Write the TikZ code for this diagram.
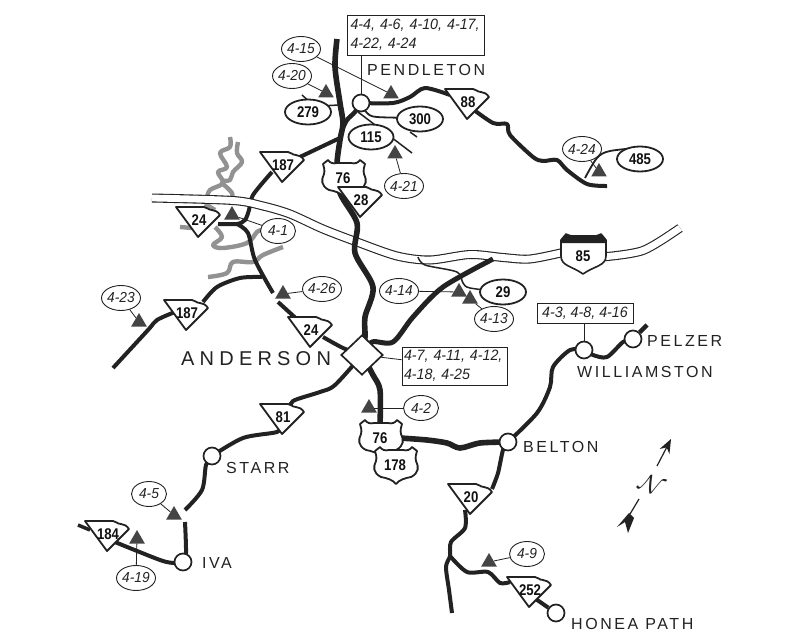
\documentclass[tikz,border=0pt]{standalone}
\usepackage{fontspec}
\usetikzlibrary{shapes.geometric,arrows.meta}
\setmainfont{Liberation Sans}
\newfontfamily\fitalic[FakeStretch=.95,Color=222222]{Liberation Sans Italic}
\newfontfamily\fnum[FakeStretch=.85,Color=111111]{Liberation Sans Bold}
\newfontfamily\fplace[LetterSpace=16,Color=222222]{Liberation Sans}
\newfontfamily\fbig[LetterSpace=26,Color=222222]{Liberation Sans}
\definecolor{ink}{HTML}{222222}
\definecolor{tri}{HTML}{444444}
\definecolor{river}{HTML}{929292}
\pgfdeclarelayer{bg}
\pgfsetlayers{bg,main}
\tikzset{
 rd/.style={draw=ink,line width=#1,line cap=butt,line join=round},
 town/.style={circle,draw=ink,fill=white,line width=1.7pt,minimum size=17pt,inner sep=0pt},
 ref/.style={ellipse,draw=ink,fill=white,line width=.9pt,minimum width=35pt,minimum height=25pt,inner sep=0pt,font=\fitalic\fontsize{14.5}{14.5}\selectfont},
 route/.style={ellipse,draw=ink,fill=white,line width=1.8pt,minimum width=46pt,minimum height=25pt,inner sep=0pt,font=\fnum\fontsize{15.5}{15.5}\selectfont},
 refbox/.style={draw=ink,fill=white,line width=.9pt,align=left,inner sep=0pt,font=\fitalic\fontsize{15}{19}\selectfont},
 site/.style={regular polygon,regular polygon sides=3,fill=tri,inner sep=0pt,minimum size=18pt},
 place/.style={anchor=west,inner sep=0pt,font=\fplace\fontsize{16}{16}\selectfont},
 lead/.style={draw=ink,line width=.8pt},
 shieldline/.style={draw=ink,fill=white,line width=1.8pt,line join=round},
 shieldnum/.style={inner sep=0pt,font=\fnum\fontsize{15.5}{15.5}\selectfont},
 wet/.style={draw=river,line width=4.4pt,line join=round},
}
\newcommand{\scsign}[4]{%
 \draw[shieldline,shift={(#2,#3)}] (0,0) -- (28,0) .. controls (31,0) and (32,3) .. (36,3) .. controls (39,3) and (42,5) .. (44,8) -- (22,30) -- cycle;
 \node[shieldnum] (#1) at (#2+23,#3+13) {#4};}
\newcommand{\ussign}[4]{%
 \draw[shieldline,shift={(#2,#3)}] (5,0) .. controls (7,3) and (10,4) .. (14,3) -- (28,3) .. controls (32,4) and (35,3) .. (37,0) -- (42,4) .. controls (41,8) and (40,10) .. (41,14) .. controls (44,20) and (44,26) .. (36,30) .. controls (30,31) and (24,33) .. (21,37) .. controls (18,33) and (12,31) .. (6,30) .. controls (-2,26) and (-2,20) .. (1,14) .. controls (2,10) and (1,8) .. (0,4) -- cycle;
 \node[shieldnum] (#1) at (#2+20,#3+18) {#4};}
\begin{document}
\begin{tikzpicture}[x=1pt,y=-1pt]
\useasboundingbox (0,0) rectangle (800,639);

% towns and junction
\node[town] (pend) at (361,103) {};
\node[town] (starr) at (212,456) {};
\node[town] (iva) at (183,562) {};
\node[town] (will) at (584,350) {};
\node[town] (pel) at (633,339) {};
\node[town] (bel) at (508,442) {};
\node[town] (hon) at (556,613) {};
\node[diamond,draw=ink,fill=white,line width=1.7pt,minimum width=42pt,minimum height=40pt,inner sep=0pt] (dia) at (362,355) {};

% oval routes
\node[route] (o279) at (308,112) {279};
\node[route] (o300) at (420,119) {300};
\node[route,minimum width=45pt] (o115) at (371,137) {115};
\node[route] (o485) at (640,159) {485};
\node[route] (o29) at (503,292) {29};

% site markers
\node[site] (t15) at (391,94) {};
\node[site] (t20) at (326,93) {};
\node[site] (t21) at (395,154) {};
\node[site] (t5) at (174,515) {};
\node[site] (t19) at (137,539) {};
\node[site] (t23) at (139,322) {};
\node[site] (t1) at (232,215) {};
\node[site] (t26) at (283,294) {};
\node[site] (t24) at (599,172) {};
\node[site] (t14) at (459,292) {};
\node[site] (t13) at (470,299) {};
\node[site] (t2) at (369,408) {};
\node[site] (t9) at (489,562) {};

% reference ovals
\node[ref] (e15) at (301,49) {4-15};
\node[ref] (e20) at (292,76) {4-20};
\node[ref] (e21) at (404,186) {4-21};
\node[ref] (e5) at (149,494) {4-5};
\node[ref] (e19) at (136,578) {4-19};
\node[ref] (e23) at (121,298) {4-23};
\node[ref] (e1) at (278,231) {4-1};
\node[ref] (e26) at (322,289) {4-26};
\node[ref] (e24) at (582,149) {4-24};
\node[ref] (e14) at (399,291) {4-14};
\node[ref] (e13) at (494,319) {4-13};
\node[ref] (e2) at (421,408) {4-2};
\node[ref] (e9) at (527,554) {4-9};

% reference boxes
\node[refbox,minimum width=137pt,minimum height=40pt,text width=130pt] (bxa) at (415.5,35) {4-4, 4-6, 4-10, 4-17,\\4-22, 4-24};
\node[refbox,minimum width=105pt,minimum height=38pt,text width=101pt] (bxb) at (454.5,366) {\mbox{4-7, 4-11, 4-12,}\\4-18, 4-25};
\node[refbox,minimum width=96pt,minimum height=20pt,align=center] (bxc) at (585,313) {4-3, 4-8, 4-16};

% place names
\node[place] (lpend) at (367,70) {PENDLETON};
\node[place,font=\fbig\fontsize{20}{20}\selectfont] (land) at (181,359) {ANDERSON};
\node[place] (lstarr) at (226,468) {STARR};
\node[place] (liva) at (202,563) {IVA};
\node[place] (lpel) at (647,341) {PELZER};
\node[place] (lwill) at (577,372) {WILLIAMSTON};
\node[place] (lbel) at (523,447) {BELTON};
\node[place] (lhon) at (571,624) {HONEA PATH};

% connectors of the references
\draw[lead] (e15) -- (t15);
\draw[lead] (e20) -- (t20);
\draw[lead] (e21) -- (t21);
\draw[lead] (e5) -- (t5);
\draw[lead] (e19) -- (t19);
\draw[lead] (e23) -- (t23);
\draw[lead] (e1) -- (t1);
\draw[lead] (e26) -- (t26);
\draw[lead] (e24) -- (t24);
\draw[lead] (e14) -- (t14);
\draw[lead] (e13) -- (t13);
\draw[lead] (e2) -- (t2);
\draw[lead] (e9) -- (t9);

% signs
\ussign{s76n}{323}{160}{76}
\scsign{s28}{338}{187}{28}
\scsign{s187a}{260}{152}{187}
\scsign{s88}{445}{89}{88}
\scsign{s24a}{176}{207}{24}
\scsign{s187b}{164}{300}{187}
\scsign{s24b}{288}{317}{24}
\scsign{s81}{260}{404}{81}
\scsign{s184}{85}{521}{184}
\scsign{s20}{448}{484}{20}
\scsign{s252}{507}{577}{252}
\ussign{s76s}{360}{420}{76}
\ussign{s178}{375}{447}{178}
\draw[shieldline,line width=1.6pt] (566,234) .. controls (570,236) and (572,236) .. (575,236) -- (592,236) .. controls (596,236) and (598,236) .. (601,234) -- (606,240) -- (606,256) .. controls (606,266) and (594,266) .. (583,274) .. controls (572,266) and (561,266) .. (561,256) -- (561,240) -- cycle;
\fill[ink] (566,234) .. controls (570,236) and (572,236) .. (575,236) -- (592,236) .. controls (596,236) and (598,236) .. (601,234) -- (606,240) -- (606,243) -- (561,243) -- (561,240) -- cycle;
\node[shieldnum] (s85) at (583,256) {85};

% north arrow
\coordinate (na) at (657,466);
\coordinate (nb) at (671,439);
\coordinate (nc) at (639,499);
\coordinate (nd) at (630,514);
\draw[lead,line width=1.2pt,-{Stealth[length=14pt,width=11pt]}] (na) -- (nb);
\draw[lead,line width=1.2pt] (nc) -- (nd);
\fill[ink] (629,513) -- (617,527) -- (625,522) -- (628,533) -- (634,518) -- cycle;
\node[rotate=-25,inner sep=0pt,text=ink] (nn) at (652,485) {\fontsize{25}{25}\selectfont$\mathcal{N}$};

\begin{pgfonlayer}{bg}
\fill[white] (0,0) rectangle (800,639);
% river
\draw[wet] plot[smooth,tension=.6] coordinates {(230,137) (230,147) (220,153) (227,167) (218,172) (223,183) (210,190) (207,198)};
\draw[wet] plot[smooth,tension=.6] coordinates {(238,142) (237,153) (242,162) (233,172) (230,180) (222,182) (232,193) (231,200)};
\draw[wet] (180,227) -- (192,228);
\draw[wet] (205,204) -- (215,210);
\draw[wet] plot[smooth,tension=.6] coordinates {(215,227) (222,237) (213,245) (223,248) (247,243) (257,232) (262,230)};
\draw[wet] plot[smooth,tension=.6] coordinates {(283,247) (263,255) (253,262) (233,262) (227,273) (208,277)};

% roads under the interstate
\draw[rd=4pt] plot[smooth,tension=.5] coordinates {(272,172) (253,195) (249,210) (245,220) (237,224) (218,224)};
\draw[rd=4pt] plot[smooth,tension=.5] coordinates {(237,224) (248,233) (255,260) (273,293)};
\draw[rd=4pt] plot[smooth,tension=.5] coordinates {(278,302) (300,322)};
\draw[rd=4pt] plot[smooth,tension=.5] coordinates {(323,337) (343,348) (dia)};
\draw[rd=4pt] plot[smooth,tension=.5] coordinates {(262,277) (240,278) (217,287) (203,302)};
\draw[rd=4pt] plot[smooth,tension=.5] coordinates {(175,312) (157,320) (148,330) (113,368)};

% interstate 85
\foreach \w/\c in {9pt/ink,6.8pt/white}{
\draw[line width=\w,color=\c] plot[smooth,tension=.5] coordinates {(152,198) (233,200.5) (263,206) (290,214) (323,229) (357,242) (397,256) (430,260) (470,254.5) (503,257.5) (530,259) (565,252)};
\draw[line width=\w,color=\c] plot[smooth,tension=.5] coordinates {(602,257) (643,250.5) (680,228)};
}

% highway 76 and 28
\draw[rd=5.6pt] plot[smooth,tension=.5] coordinates {(337,39) (335,67) (340,103) (343,123) (340,140) (337,165) (340,193) (357,223) (355,253) (373,287) (365,317) (365,337) (dia)};
\draw[rd=4.5pt] plot[smooth,tension=.5] coordinates {(pend) (355,112) (347,120) (342,130)};
\draw[rd=4pt] (342,137) -- (s187a);
% 29
\draw[rd=5pt] plot[smooth,tension=.5] coordinates {(dia) (372,342) (393,342) (413,317) (443,287) (493,259)};
\draw[rd=1.5pt] plot[smooth,tension=.5] coordinates {(418,257) (425,265) (457,272) (463,283) (470,288) (o29)};
% pendleton roads
\draw[rd=4pt] plot[smooth,tension=.5] coordinates {(pend) (393,103) (410,97) (425,88) (450,95)};
\draw[rd=4pt] plot[smooth,tension=.5] coordinates {(470,107) (493,123) (507,124) (510,135) (533,157) (543,161) (557,160) (567,170) (587,184) (607,186)};
\draw[rd=1.8pt] plot[smooth,tension=.5] coordinates {(585,178) (597,158) (610,151) (647,147)};
\draw[rd=1.5pt] plot[smooth,tension=.5] coordinates {(302,95) (316,105) (338,105)};
\draw[rd=1.8pt] plot[smooth,tension=.5] coordinates {(pend) (367,113) (377,117) (420,118)};
\draw[rd=1.5pt] (410,132) -- (417,137);
\draw[rd=1.5pt] (358,112) -- (412,153);
% south
\draw[rd=5.6pt] plot[smooth,tension=.5] coordinates {(dia) (373,375) (380,390) (380,425)};
\draw[rd=4pt] plot[smooth,tension=.5] coordinates {(dia) (335,385) (320,392) (293,401) (291,410)};
\draw[rd=4pt] plot[smooth,tension=.5] coordinates {(282,425) (277,432) (243,438) (starr)};
\draw[rd=4pt] plot[smooth,tension=.5] coordinates {(starr) (206,465) (202,490) (185,510)};
\draw[rd=4pt] plot[smooth,tension=.5] coordinates {(185,522) (186,553) (iva)};
\draw[rd=4pt] plot[smooth,tension=.5] coordinates {(iva) (175,563) (160,560) (110,540)};
\draw[rd=3.5pt] (90,530) -- (78,525);
% belton
\draw[rd=5.6pt] plot[smooth,tension=.5] coordinates {(400,438) (427,440) (447,443) (460,448) (480,443) (bel)};
\draw[rd=4pt] plot[smooth,tension=.5] coordinates {(bel) (537,413) (550,387) (553,367) (570,350) (will)};
\draw[rd=4pt] plot[smooth,tension=.5] coordinates {(will) (593,355) (607,357) (623,342) (pel)};
\draw[rd=4.5pt] (pel) -- (647,325);
\draw[rd=4pt] plot[smooth,tension=.5] coordinates {(bel) (503,450) (498,473) (492,489)};
\draw[rd=4pt] plot[smooth,tension=.5] coordinates {(465,510) (465,528) (451,542) (450,556) (446,567) (449,590) (452,613)};
\draw[rd=4pt] plot[smooth,tension=.5] coordinates {(450,556) (467,572) (488,572) (500,583) (510,582)};
\draw[rd=4pt] (530,595) -- (hon);
% leaders of the boxes
\draw[lead] (bxa.south -| pend) -- (pend);
\draw[lead] (dia) -- (bxb);
\draw[lead] (bxc.south -| will) -- (will);
\end{pgfonlayer}
\end{tikzpicture}
\end{document}
